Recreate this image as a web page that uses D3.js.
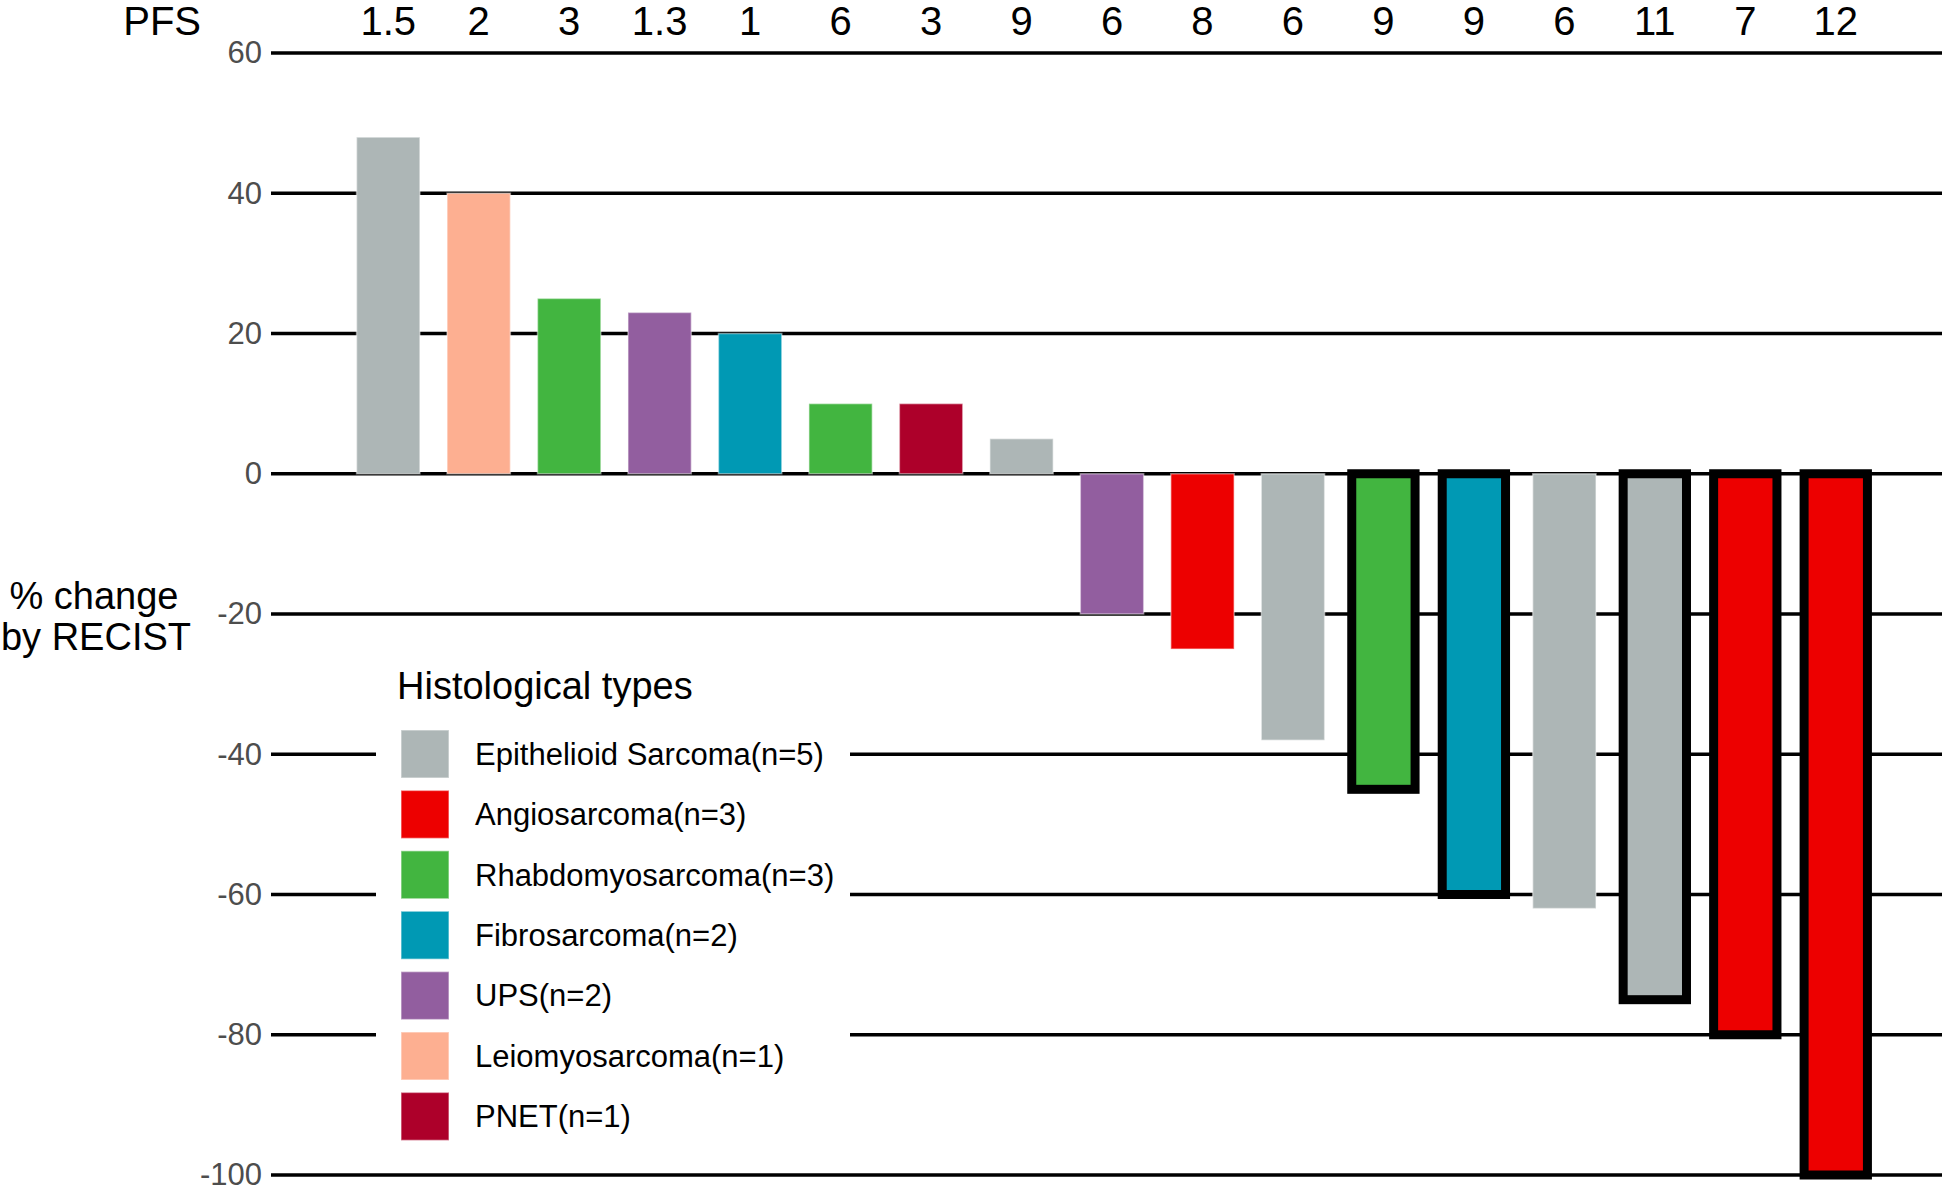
<!DOCTYPE html>
<html>
<head>
<meta charset="utf-8">
<script src="https://cdn.jsdelivr.net/npm/d3@7"></script>
<style>
  body { margin: 0; background: #fff; }
  text { font-family: "Liberation Sans", Arial, sans-serif; }
</style>
</head>
<body>
<div id="chart"></div>
<script>
// waterfall of best response per patient
const pfs = ["1.5", "2", "3", "1.3", "1", "6", "3", "9", "6", "8", "6", "9", "9", "6", "11", "7", "12"];
const change = [48, 40, 25, 23, 20, 10, 10, 5, -20, -25, -38, -45, -60, -62, -75, -80, -100];
const histology = ["Epithelioid Sarcoma", "Leiomyosarcoma", "Rhabdomyosarcoma", "UPS", "Fibrosarcoma",
  "Rhabdomyosarcoma", "PNET", "Epithelioid Sarcoma", "UPS", "Angiosarcoma", "Epithelioid Sarcoma",
  "Rhabdomyosarcoma", "Fibrosarcoma", "Epithelioid Sarcoma", "Epithelioid Sarcoma", "Angiosarcoma", "Angiosarcoma"];
const outlined = [false, false, false, false, false, false, false, false, false, false, false,
  true, true, false, true, true, true];

const types = ["Epithelioid Sarcoma", "Angiosarcoma", "Rhabdomyosarcoma", "Fibrosarcoma", "UPS", "Leiomyosarcoma", "PNET"];
const typeCounts = [5, 3, 3, 2, 2, 1, 1];
const typeColors = ["#ADB6B6", "#ED0000", "#42B540", "#0099B4", "#925E9F", "#FDAF91", "#AD002A"];
const yTicks = [60, 40, 20, 0, -20, -40, -60, -80, -100];

const width = 1946, height = 1191;
const svg = d3.select("#chart").append("svg")
    .attr("width", width)
    .attr("height", height);

const y = d3.scaleLinear().domain([-100, 60]).range([1175, 53]);
const x = d3.scaleBand()
    .domain(d3.range(change.length))
    .range([343, 1881])
    .paddingInner(0.3)
    .paddingOuter(0.15);
const color = d3.scaleOrdinal().domain(types).range(typeColors);

const gridLeft = 271, gridRight = 1942;

// horizontal grid lines
svg.append("g")
    .selectAll("line")
    .data(yTicks)
    .enter()
    .append("line")
    .attr("x1", gridLeft)
    .attr("x2", gridRight)
    .attr("y1", d => y(d))
    .attr("y2", d => y(d))
    .attr("stroke", "#000")
    .attr("stroke-width", 3.5);

// y axis (labels only, plain hyphen for negatives)
let yAxis = svg.append("g")
    .attr("transform", `translate(${gridLeft},0)`)
    .call(d3.axisLeft(y).tickValues(yTicks).tickSize(0).tickPadding(9).tickFormat(d => String(d)));
yAxis.select(".domain").remove();
yAxis.selectAll(".tick text")
    .attr("fill", "#4D4D4D")
    .style("font-size", "31px")
    .style("font-family", "'Liberation Sans', Arial, sans-serif");

// bars
svg.append("g")
    .selectAll("rect")
    .data(change)
    .enter()
    .append("rect")
    .attr("x", (d, i) => x(i))
    .attr("width", x.bandwidth())
    .attr("y", d => y(Math.max(0, d)))
    .attr("height", d => Math.abs(y(d) - y(0)))
    .attr("fill", (d, i) => color(histology[i]))
    .attr("stroke", (d, i) => outlined[i] ? "#000" : "rgba(255,255,255,0.45)")
    .attr("stroke-width", (d, i) => outlined[i] ? 9 : 1.5);

// PFS row above the panel
svg.append("text")
    .attr("x", 201)
    .attr("y", 35)
    .attr("text-anchor", "end")
    .style("font-size", "40px")
    .text("PFS");

svg.append("g")
    .selectAll("text")
    .data(pfs)
    .enter()
    .append("text")
    .attr("x", (d, i) => x(i) + x.bandwidth() / 2)
    .attr("y", 35)
    .attr("text-anchor", "middle")
    .style("font-size", "40px")
    .text(d => d);

// y title
svg.append("text")
    .attr("x", 94)
    .attr("y", 609)
    .attr("text-anchor", "middle")
    .style("font-size", "38px")
    .text("% change");
svg.append("text")
    .attr("x", 96)
    .attr("y", 650)
    .attr("text-anchor", "middle")
    .style("font-size", "38px")
    .text("by RECIST");

// legend
let legend = svg.append("g");
legend.append("rect")
    .attr("x", 376)
    .attr("y", 640)
    .attr("width", 474)
    .attr("height", 522)
    .attr("fill", "#fff");
legend.append("text")
    .attr("x", 397)
    .attr("y", 699)
    .style("font-size", "38px")
    .text("Histological types");

let keys = legend.selectAll(".key")
    .data(types)
    .enter()
    .append("g")
    .attr("class", "key")
    .attr("transform", (d, i) => `translate(401,${730 + i * 60.4})`);
keys.append("rect")
    .attr("width", 48)
    .attr("height", 48)
    .attr("fill", d => color(d))
    .attr("stroke", "rgba(255,255,255,0.45)")
    .attr("stroke-width", 1.5);
keys.append("text")
    .attr("x", 74)
    .attr("y", 24)
    .attr("dy", "0.35em")
    .style("font-size", "31px")
    .text((d, i) => `${d}(n=${typeCounts[i]})`);
</script>
</body>
</html>
